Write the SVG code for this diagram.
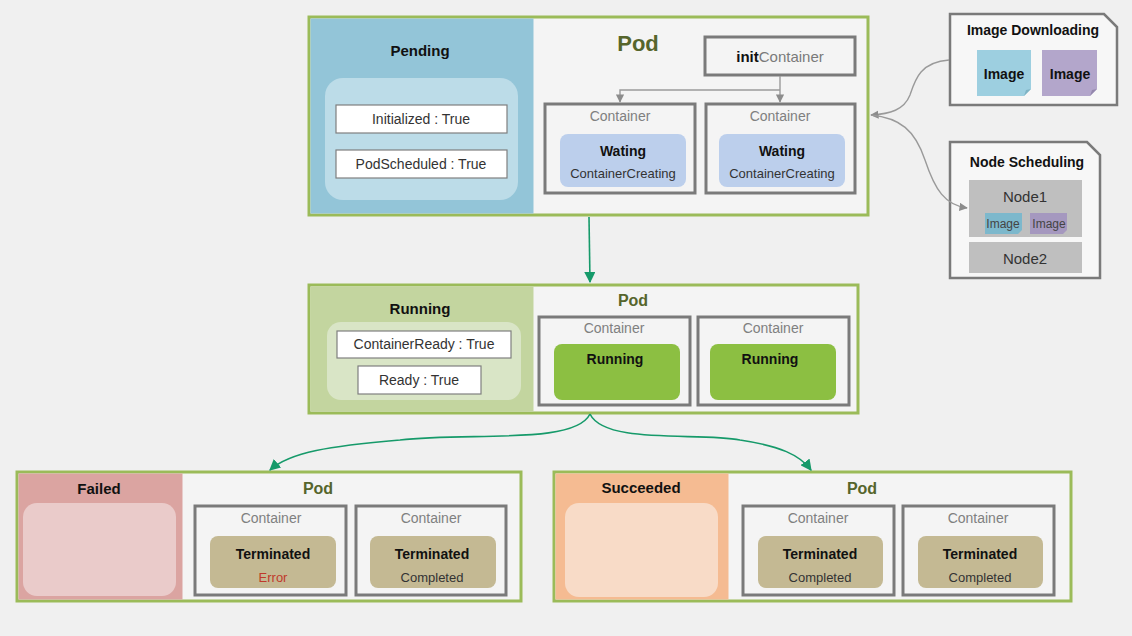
<svg xmlns="http://www.w3.org/2000/svg" width="1132" height="636" viewBox="0 0 1132 636">
<defs>
<marker id="ag" viewBox="0 0 10 10" refX="9" refY="5" markerWidth="7" markerHeight="7" orient="auto-start-reverse"><path d="M0,0 L10,5 L0,10 z" fill="#169a6a"/></marker>
<marker id="agr" viewBox="0 0 10 10" refX="9" refY="5" markerWidth="6" markerHeight="6" orient="auto-start-reverse"><path d="M0,0 L10,5 L0,10 z" fill="#8c8c8c"/></marker>
</defs>
<style>
text{font-family:"Liberation Sans","Noto Sans",Arial,sans-serif;text-anchor:middle;dominant-baseline:central}
.b{font-weight:bold;fill:#111}
.pod{font-weight:bold;fill:#56652c}
.cl{font-size:14px;fill:#808080}
.frame{fill:#f4f4f4;stroke:#9bbb59;stroke-width:3}
.ct{fill:#f4f4f4;stroke:#7a7a7a;stroke-width:3}
.cond{fill:#ffffff;stroke:#7f7f7f;stroke-width:1.2}
.ctext{font-size:14px;fill:#333}
.wait{fill:#bccfec}
.run{fill:#8cbf42}
.term{fill:#c4b993}
.s13{font-size:13px;fill:#333}
.gl{fill:none;stroke:#169a6a;stroke-width:1.6}
.gr{fill:none;stroke:#9a9a9a;stroke-width:1.4}
.side{fill:#f7f7f7;stroke:#7a7a7a;stroke-width:2.5}
</style>
<rect width="1132" height="636" fill="#f0f0f0"/>

<g id="pending">
<rect class="frame" x="309" y="17" width="559" height="198"/>
<rect x="310.5" y="18.5" width="223" height="195" fill="#93c5d8"/>
<text class="b" x="420" y="50" font-size="15">Pending</text>
<rect x="325" y="78" width="193" height="122" rx="18" fill="#bcdce8"/>
<rect class="cond" x="336" y="105" width="171" height="28"/>
<text class="ctext" x="421" y="119">Initialized : True</text>
<rect class="cond" x="336" y="150" width="171" height="28"/>
<text class="ctext" x="421" y="164">PodScheduled : True</text>
<text class="pod" x="638" y="43" font-size="22">Pod</text>
<rect class="ct" x="705" y="37" width="150" height="38"/>
<text x="780" y="56" font-size="15"><tspan font-weight="bold" fill="#111">init</tspan><tspan fill="#7a7a7a">Container</tspan></text>
<rect class="ct" x="545" y="104" width="150" height="89"/>
<text class="cl" x="620" y="116">Container</text>
<rect class="wait" x="560" y="134" width="126" height="53" rx="8"/>
<text class="b" x="623" y="151" font-size="14">Wating</text>
<text class="s13" x="623" y="173">ContainerCreating</text>
<rect class="ct" x="706" y="104" width="149" height="89"/>
<text class="cl" x="780" y="116">Container</text>
<rect class="wait" x="719" y="134" width="126" height="53" rx="8"/>
<text class="b" x="782" y="151" font-size="14">Wating</text>
<text class="s13" x="782" y="173">ContainerCreating</text>
</g>

<g id="running">
<rect class="frame" x="309" y="285" width="549" height="128"/>
<rect x="310.5" y="286.5" width="223" height="125" fill="#c3d59f"/>
<text class="b" x="420" y="308" font-size="15">Running</text>
<rect x="327" y="322" width="194" height="78" rx="14" fill="#d9e5c6"/>
<rect class="cond" x="337" y="331" width="174" height="27"/>
<text class="ctext" x="424" y="344">ContainerReady : True</text>
<rect class="cond" x="358" y="366" width="123" height="28"/>
<text class="ctext" x="419" y="380">Ready : True</text>
<text class="pod" x="633" y="300" font-size="16">Pod</text>
<rect class="ct" x="539" y="317" width="151" height="88"/>
<text class="cl" x="614" y="328">Container</text>
<rect class="run" x="554" y="344" width="126" height="56" rx="8"/>
<text class="b" x="615" y="359" font-size="14">Running</text>
<rect class="ct" x="698" y="317" width="151" height="88"/>
<text class="cl" x="773" y="328">Container</text>
<rect class="run" x="710" y="344" width="126" height="56" rx="8"/>
<text class="b" x="770" y="359" font-size="14">Running</text>
</g>

<g id="failed">
<rect class="frame" x="17" y="472" width="504" height="129"/>
<rect x="18.5" y="473.5" width="164" height="126" fill="#dba4a1"/>
<text class="b" x="99" y="488" font-size="15">Failed</text>
<rect x="23" y="503" width="153" height="93" rx="14" fill="#eacbca"/>
<text class="pod" x="318" y="488" font-size="16">Pod</text>
<rect class="ct" x="195" y="506" width="151" height="89"/>
<text class="cl" x="271" y="518">Container</text>
<rect class="term" x="210" y="536" width="126" height="52" rx="8"/>
<text class="b" x="273" y="554" font-size="14">Terminated</text>
<text x="273" y="577" font-size="13" fill="#c0392b">Error</text>
<rect class="ct" x="356" y="506" width="150" height="89"/>
<text class="cl" x="431" y="518">Container</text>
<rect class="term" x="370" y="536" width="126" height="52" rx="8"/>
<text class="b" x="432" y="554" font-size="14">Terminated</text>
<text class="s13" x="432" y="577">Completed</text>
</g>

<g id="succeeded">
<rect class="frame" x="554" y="472" width="517" height="129"/>
<rect x="555.5" y="473.5" width="173" height="126" fill="#f5bb92"/>
<text class="b" x="641" y="487" font-size="15">Succeeded</text>
<rect x="565" y="503" width="153" height="94" rx="14" fill="#f8dbc7"/>
<text class="pod" x="862" y="488" font-size="16">Pod</text>
<rect class="ct" x="743" y="506" width="151" height="89"/>
<text class="cl" x="818" y="518">Container</text>
<rect class="term" x="758" y="536" width="125" height="52" rx="8"/>
<text class="b" x="820" y="554" font-size="14">Terminated</text>
<text class="s13" x="820" y="577">Completed</text>
<rect class="ct" x="903" y="506" width="151" height="89"/>
<text class="cl" x="978" y="518">Container</text>
<rect class="term" x="918" y="536" width="125" height="52" rx="8"/>
<text class="b" x="980" y="554" font-size="14">Terminated</text>
<text class="s13" x="980" y="577">Completed</text>
</g>

<g id="image-downloading">
<path class="side" d="M950,14 L1104,14 L1117,27 L1117,105 L950,105 Z"/>
<text class="b" x="1033" y="30" font-size="14">Image Downloading</text>
<path d="M977,50 L1031,50 L1031,89 L1024,96 L977,96 Z" fill="#9dcfe0"/>
<path d="M1031,89 L1026,90 L1024,96 Z" fill="#7fb3c4"/>
<text class="b" x="1004" y="74" font-size="14">Image</text>
<path d="M1042,50 L1097,50 L1097,89 L1090,96 L1042,96 Z" fill="#b3a6cb"/>
<path d="M1097,89 L1092,90 L1090,96 Z" fill="#9487ad"/>
<text class="b" x="1070" y="74" font-size="14">Image</text>
</g>

<g id="node-scheduling">
<path class="side" d="M950,142 L1087,142 L1100,155 L1100,278 L950,278 Z"/>
<text class="b" x="1027" y="162" font-size="14">Node Scheduling</text>
<rect x="969" y="180" width="113" height="57" fill="#bfbfbf"/>
<text x="1025" y="196" font-size="15" fill="#333">Node1</text>
<path d="M985,213 L1022,213 L1022,230 L1018,234 L985,234 Z" fill="#7db8cc"/>
<text x="1003" y="224" font-size="12" fill="#444">Image</text>
<path d="M1030,213 L1067,213 L1067,230 L1063,234 L1030,234 Z" fill="#a598bf"/>
<text x="1049" y="224" font-size="12" fill="#444">Image</text>
<rect x="969" y="242" width="113" height="31" fill="#bfbfbf"/>
<text x="1025" y="258" font-size="15" fill="#333">Node2</text>
</g>

<g id="connectors">
<path class="gl" d="M589,217 L590,282" marker-end="url(#ag)"/>
<path class="gl" d="M590,414 C575,445 470,432 400,440 C330,446 290,452 270,470" marker-end="url(#ag)"/>
<path class="gl" d="M590,414 C605,445 700,432 740,440 C780,446 800,455 811,470" marker-end="url(#ag)"/>
<path class="gr" d="M780,76 L780,102" marker-end="url(#agr)"/>
<path class="gr" d="M780,90 L620,90 L620,102" marker-end="url(#agr)"/>
<path class="gr" d="M949,60 C920,62 915,80 910,95 C904,110 890,114 871,115" marker-end="url(#agr)"/>
<path class="gr" d="M871,115 C900,118 915,130 925,160 C935,190 945,205 967,208" marker-end="url(#agr)"/>
</g>
</svg>
